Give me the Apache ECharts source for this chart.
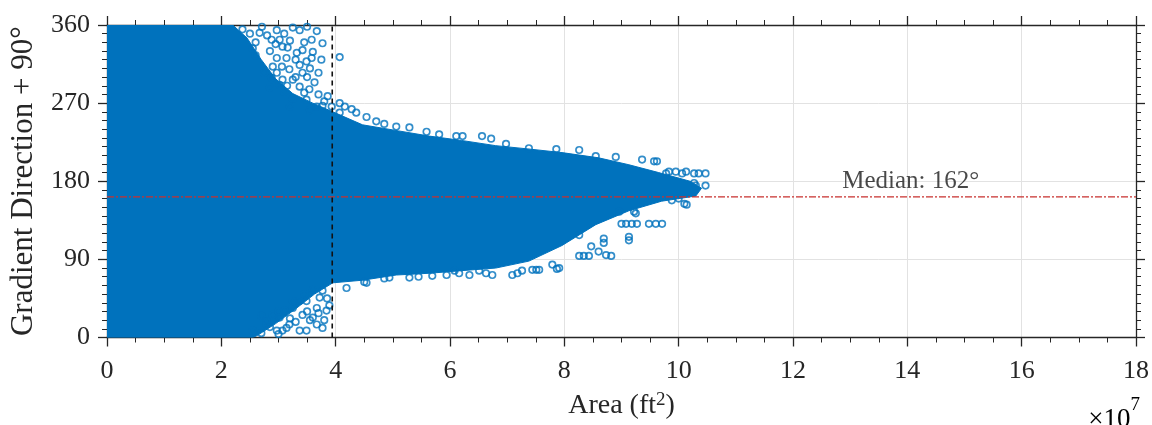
<!DOCTYPE html>
<html>
<head>
<meta charset="utf-8">
<script src="https://cdn.jsdelivr.net/npm/echarts@6/dist/echarts.min.js"></script>
<style>
  html, body { margin: 0; padding: 0; background: #fff; }
  #chart { width: 1152px; height: 425px; }
</style>
</head>
<body>
<div id="chart"></div>
<script>
// Area in units of 1e7 ft^2, direction in degrees.
const X_TICKS = [0, 2, 4, 6, 8, 10, 12, 14, 16, 18];
const Y_TICKS = [0, 90, 180, 270, 360];

// Outline of the densely packed core of the point cloud (upper edge, left to right).
const CORE_UPPER = [[0,360],[2.0,360],[2.2,360],[2.45,345],[2.7,320],[2.95,298],[3.25,281],[3.6,270],
  [3.95,260],[4.47,245],[5.1,238],[5.64,232],[6.2,227],[6.8,221],[7.4,217],[7.96,213],[8.6,207],
  [9.13,199],[9.65,190],[10.2,180],[10.4,172]];
// Lower edge of the core, right to left.
const CORE_LOWER = [[10.3,163],[9.7,157],[9.13,146],[8.55,130],[7.96,106],[7.38,88],[6.8,80],
  [6.2,77],[5.64,74],[5.06,72],[4.47,66],[3.95,63],[3.63,50],[3.3,33],[2.95,16],[2.62,2],[2.55,0],[0,0]];

// Individually visible samples around the fringe of the cloud.
const FRINGE_UPPER = [[2.37,355],[2.71,358],[2.97,354],[3.25,357],[3.37,354],[3.67,353],[2.67,351],
  [2.88,343],[3.02,343],[3.58,343],[3.77,339],[3.07,335],[3.16,334],[3.42,331],[3.32,328],[3.60,329],
  [4.07,323],[2.97,322],[3.14,322],[3.58,322],[3.49,318],[3.37,314],[2.90,312],[3.06,312],[3.19,309],
  [3.42,305],[2.97,305],[2.88,299],[3.07,297],[3.25,297],[3.63,294],[3.02,291],[3.37,289],[3.54,286],
  [3.86,278],[3.49,274],[3.67,266],[3.77,267],[3.93,266],[4.07,270],[4.16,266],[4.28,263],[4.36,259],
  [4.07,259],[4.54,254],[4.71,249],[4.85,246],[5.06,243],[5.29,242],[5.59,237],[5.81,234],[6.11,232],
  [6.22,232],[6.56,232],[6.72,229],[6.98,223],[7.38,218],[7.86,217],[8.26,216],[8.55,209],[8.90,208],
  [9.36,205],[9.57,203],[9.62,203],[9.95,191],[9.78,189],[9.83,191],[10.06,189],[10.13,191],[10.27,189],
  [10.35,189],[10.47,189],[10.3,175],[10.47,175],[10.27,178],
  [2.5,350],[2.6,340],[2.8,348],[2.85,330],[2.95,338],[3.1,350],[3.2,342],[3.3,320],[3.45,340],
  [3.5,300],[3.55,310],[3.7,305],[3.75,320],[3.3,300],[3.15,290],[3.45,282],[3.7,280],[3.5,358],
  [2.6,325],[2.75,305],[2.85,288],[3.1,283],[3.25,275],[3.8,272],[3.55,262],[3.2,266],[2.55,333]];
const FRINGE_LOWER = [[10.0,160],[10.14,153],[10.1,154],[9.88,158],[9.71,163],[9.22,145],[9.25,143],
  [8.96,145],[9.48,131],[9.6,131],[9.71,131],[9.0,131],[9.08,131],[9.18,131],[9.27,131],[9.13,112],
  [9.13,116],[8.69,114],[8.69,109],[8.6,99],[8.73,95],[8.82,94],[8.26,94],[8.34,94],[8.43,94],[8.47,105],
  [8.26,118],[7.91,80],[7.79,84],[7.56,78],[7.44,78],[7.26,77],[7.18,74],[7.09,72],[6.74,72],[6.63,74],
  [6.51,77],[6.34,72],[6.16,74],[6.08,77],[7.51,78],[7.87,79],[4.19,57],[4.54,63],[4.94,69],[5.29,69],
  [5.69,71],[5.94,72],[4.5,64],[4.85,68],[5.45,70],
  [2.55,8],[2.79,15],[2.79,19],[3.14,11],[3.37,8],[3.19,15],[3.42,26],[3.49,42],[3.37,42],[3.67,34],
  [3.77,11],[3.84,31],[3.89,37],[3.60,23],[3.02,23],[2.90,26],[3.25,34],[3.11,31],[3.77,54],[3.72,46],
  [3.67,15],[2.97,8],[3.07,8],[3.49,8],
  [2.7,5],[2.85,12],[3.0,4],[3.2,22],[3.3,18],[3.5,30],[3.55,20],[3.7,28],[3.8,20],[3.85,45],
  [3.45,50],[3.6,55],[3.25,42],[3.0,30],[2.7,25]];

const MEDIAN = 162;          // median direction, degrees
const AREA_CUTOFF = 3.94;    // vertical reference line, 1e7 ft^2
const X_RANGE = [0, 18];
const Y_RANGE = [0, 360];

const BLUE = '#0072BD';
const INK = '#262626';
const FONT = "'Liberation Serif', 'Times New Roman', serif";

const chart = echarts.init(document.getElementById('chart'), null, { renderer: 'canvas' });

function axisCommon(pos) {
  return {
    axisLine: { show: true, onZero: false, lineStyle: { color: INK, width: 1.3 } },
    axisTick: { show: true, inside: false, length: 9, lineStyle: { color: INK, width: 1.3 } },
    position: pos
  };
}
const MINOR_STYLE = { color: INK, width: 1 };

const option = {
  animation: false,
  backgroundColor: '#fff',
  grid: { left: 107, right: 15, top: 25, bottom: 85, containLabel: false },
  xAxis: [
    Object.assign(axisCommon('bottom'), {
      type: 'value', min: X_RANGE[0], max: X_RANGE[1], interval: 2,
      minorTick: { show: true, splitNumber: 4, length: 5, lineStyle: MINOR_STYLE },
      splitLine: { show: true, lineStyle: { color: '#e2e2e2', width: 1 } },
      axisLabel: { fontFamily: FONT, fontSize: 26, color: INK, margin: 21,
        formatter: v => X_TICKS.includes(v) ? String(v) : '' },
      name: '{t|Area (ft}{s|2}{t|)}',
      nameLocation: 'middle', nameGap: 53,
      nameTextStyle: {
        rich: {
          t: { fontFamily: FONT, fontSize: 28, color: INK },
          s: { fontFamily: FONT, fontSize: 19, color: INK, verticalAlign: 'top', padding: [0, 0, 12, 0] }
        }
      }
    }),
    Object.assign(axisCommon('top'), {
      type: 'value', min: X_RANGE[0], max: X_RANGE[1], interval: 2,
      minorTick: { show: true, splitNumber: 4, length: 5, lineStyle: MINOR_STYLE },
      splitLine: { show: false }, axisLabel: { show: false }
    })
  ],
  yAxis: [
    Object.assign(axisCommon('left'), {
      type: 'value', min: Y_RANGE[0], max: Y_RANGE[1], interval: 90,
      minorTick: { show: true, splitNumber: 9, length: 5, lineStyle: MINOR_STYLE },
      splitLine: { show: true, lineStyle: { color: '#e2e2e2', width: 1 } },
      axisLabel: { fontFamily: FONT, fontSize: 26, color: INK, margin: 17,
        formatter: v => Y_TICKS.includes(v) ? String(v) : '' },
      name: 'Gradient Direction + 90°',
      nameLocation: 'middle', nameGap: 68, nameRotate: 90,
      nameTextStyle: { fontFamily: FONT, fontSize: 31, color: INK }
    }),
    Object.assign(axisCommon('right'), {
      type: 'value', min: Y_RANGE[0], max: Y_RANGE[1], interval: 90,
      minorTick: { show: true, splitNumber: 9, length: 5, lineStyle: MINOR_STYLE },
      splitLine: { show: false }, axisLabel: { show: false }
    })
  ],
  series: [
    {
      // solid core of overlapping markers
      type: 'custom',
      xAxisIndex: 0, yAxisIndex: 0,
      data: [0],
      clip: true,
      z: 2,
      renderItem: function (params, api) {
        const pts = CORE_UPPER.concat(CORE_LOWER).map(p => api.coord(p));
        return {
          type: 'polygon',
          shape: { points: pts },
          style: { fill: BLUE, stroke: BLUE, lineWidth: 1 }
        };
      }
    },
    {
      type: 'scatter',
      xAxisIndex: 0, yAxisIndex: 0,
      data: FRINGE_UPPER.concat(FRINGE_LOWER),
      symbol: 'circle',
      symbolSize: 6.5,
      itemStyle: { color: 'rgba(255,255,255,0)', borderColor: BLUE, borderWidth: 1.7 },
      z: 3,
      silent: true
    },
    {
      type: 'line',
      xAxisIndex: 0, yAxisIndex: 0,
      data: [[X_RANGE[0], MEDIAN], [X_RANGE[1], MEDIAN]],
      symbol: 'none',
      lineStyle: { color: '#C8302E', width: 1.3, type: [7, 2, 2, 2] },
      z: 5, silent: true
    },
    {
      type: 'line',
      xAxisIndex: 0, yAxisIndex: 0,
      data: [[AREA_CUTOFF, Y_RANGE[0]], [AREA_CUTOFF, Y_RANGE[1]]],
      symbol: 'none',
      lineStyle: { color: '#111', width: 1.6, type: [5, 4] },
      z: 5, silent: true
    },
    {
      type: 'scatter',
      xAxisIndex: 0, yAxisIndex: 0,
      data: [[14.06, MEDIAN]],
      symbolSize: 0,
      z: 6, silent: true,
      label: {
        show: true, position: 'top', distance: 3,
        formatter: () => 'Median: ' + MEDIAN + '°',
        fontFamily: FONT, fontSize: 25, color: '#1a1a1a'
      }
    }
  ],
  graphic: [
    {
      type: 'text',
      right: 12, top: 396,
      style: {
        text: '{t|×10}{s|7}',
        rich: {
          t: { fontFamily: FONT, fontSize: 27, color: INK, padding: [10, 0, 0, 0] },
          s: { fontFamily: FONT, fontSize: 19, color: INK, verticalAlign: 'top' }
        }
      }
    }
  ]
};

chart.setOption(option);
</script>
</body>
</html>
